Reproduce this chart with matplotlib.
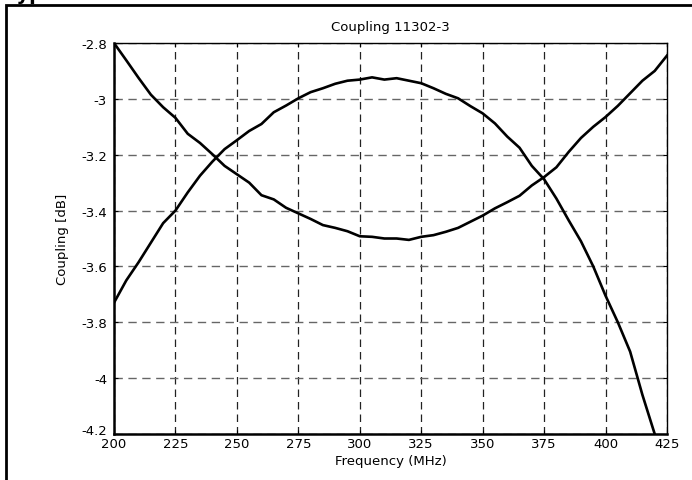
import numpy as np
import matplotlib
matplotlib.use('Agg')
import matplotlib.pyplot as plt
import matplotlib.transforms as mtransforms
from matplotlib.patches import Rectangle

plt.rcParams['font.family'] = ['DejaVu Sans']

# --- data (MHz, dB) ---
freq_a = list(range(200, 430, 5))
coupling_a = [-2.800, -2.862, -2.925, -2.985, -3.030, -3.068, -3.125, -3.158, -3.198, -3.240,
              -3.270, -3.300, -3.345, -3.360, -3.390, -3.410, -3.430, -3.452, -3.462, -3.474,
              -3.492, -3.494, -3.500, -3.500, -3.505, -3.494, -3.488, -3.476, -3.462, -3.440,
              -3.418, -3.392, -3.370, -3.347, -3.310, -3.280, -3.245, -3.190, -3.140, -3.100,
              -3.065, -3.025, -2.980, -2.935, -2.900, -2.845]

freq_b = list(range(200, 425, 5))
coupling_b = [-3.730, -3.650, -3.585, -3.515, -3.445, -3.400, -3.335, -3.275, -3.225, -3.180,
              -3.148, -3.115, -3.090, -3.048, -3.024, -2.998, -2.976, -2.962, -2.946, -2.935,
              -2.931, -2.923, -2.931, -2.926, -2.935, -2.944, -2.962, -2.982, -2.998, -3.026,
              -3.052, -3.088, -3.135, -3.175, -3.240, -3.288, -3.357, -3.435, -3.510, -3.600,
              -3.705, -3.800, -3.905, -4.060, -4.200]

xticks = [200, 225, 250, 275, 300, 325, 350, 375, 400, 425]
yticks = [-2.8, -3.0, -3.2, -3.4, -3.6, -3.8, -4.0, -4.2]
yticklabels = ['-2.8', '-3', '-3.2', '-3.4', '-3.6', '-3.8', '-4', '-4.2']

W, H = 692, 481
fig = plt.figure(figsize=(W / 100, H / 100), dpi=100)
ax = fig.add_axes([114 / W, 1 - 435 / H, (667 - 114) / W, (435 - 44) / H])

ax.plot(freq_a, coupling_a, color='black', linewidth=1.9, zorder=3)
ax.plot(freq_b, coupling_b, color='black', linewidth=1.9, zorder=3)

ax.set_xlim(200, 425)
ax.set_ylim(-4.2, -2.8)
ax.set_xticks(xticks)
ax.set_yticks(yticks)
ax.set_yticklabels(yticklabels)

# MATLAB style dashed grid
ax.xaxis.grid(True, linestyle=(0, (6, 4)), color='#222222', linewidth=0.9)
ax.yaxis.grid(True, linestyle=(0, (6, 4)), color='#666666', linewidth=1.0)
ax.set_axisbelow(True)

ax.tick_params(direction='in', length=3, width=0.8, labelsize=9.5, top=True, right=True)
ax.tick_params(axis='x', pad=2)
ax.tick_params(axis='y', pad=5)

# lowest y label sits a little higher, as in the original
lbl = ax.get_yticklabels()[-1]
lbl.set_transform(lbl.get_transform() + mtransforms.ScaledTranslation(0, 5 / 100, fig.dpi_scale_trans))

for side in ['left', 'bottom']:
    ax.spines[side].set_linewidth(1.8)
for side in ['top', 'right']:
    ax.spines[side].set_linewidth(1.0)

ax.set_title('Coupling 11302-3', fontsize=9.5, pad=9)
ax.set_xlabel('Frequency (MHz)', fontsize=9.5, labelpad=3)
ax.set_ylabel('Coupling [dB]', fontsize=9.5, labelpad=9)

# outer frame of the original figure panel (cut off at right and bottom)
fig.patches.append(Rectangle((6 / W, -0.2), 1.2, 1.2 - 6 / H, transform=fig.transFigure,
                             fill=False, edgecolor='black', linewidth=2.0))
# cut-off heading above the frame
fig.text(8 / W, 1.0, 'typ', fontsize=14, fontweight='bold', ha='left', va='baseline')

fig.savefig('out.png', dpi=100)
